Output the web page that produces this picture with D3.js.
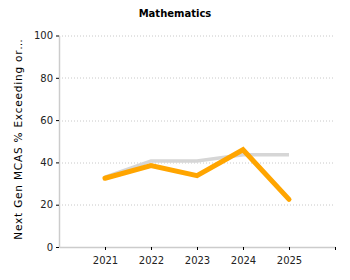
<!DOCTYPE html>
<html>
<head>
<meta charset="utf-8">
<script src="https://cdn.jsdelivr.net/npm/d3@7"></script>
<style>
    body { margin: 0; background: #fff; }
    text { font-family: "DejaVu Sans", Verdana, sans-serif; }
</style>
</head>
<body>
<div id="chart1"></div>
<script>
// data
var years = [2021, 2022, 2023, 2024, 2025];
var schoolValues = [32.5, 38.5, 33.7, 46, 22.5];
var stateValues = [33, 40.7, 40.7, 43.6, 43.6];
var yTicks = [0, 20, 40, 60, 80, 100];

var w = 350;
var h = 280;
var margin = {
    top: 35.5,
    bottom: 33,
    left: 59,
    right: 15
};
var width = w - margin.left - margin.right;
var height = h - margin.top - margin.bottom;

var svg = d3.select("#chart1").append("svg")
    .attr("width", w)
    .attr("height", h);

svg.append("text")
    .attr("x", w / 2)
    .attr("y", 17)
    .style("text-anchor", "middle")
    .style("font-weight", "bold")
    .style("font-size", "10px")
    .style("fill", "#000")
    .text("Mathematics");

var chart = svg.append("g")
    .attr("transform", "translate(" + margin.left + "," + margin.top + ")");

var x = d3.scaleLinear()
    .domain([years[0] - 1, years[years.length - 1] + 1])
    .range([0, width]);
var y = d3.scaleLinear()
    .domain([0, 100])
    .range([height, 0]);

// grid
chart.selectAll(".grid")
    .data(yTicks.filter(function(d){ return d > 0; }))
    .enter()
    .append("line")
    .classed("grid", true)
    .attr("x1", 0)
    .attr("x2", width)
    .attr("y1", function(d){ return Math.round(y(d)) + 0.5; })
    .attr("y2", function(d){ return Math.round(y(d)) + 0.5; })
    .style("stroke", "#c8c8c8")
    .style("stroke-dasharray", "1,2");

var xAxis = d3.axisBottom(x)
    .tickValues(years.concat([years[years.length - 1] + 1]))
    .tickFormat(function(d){ return years.indexOf(d) >= 0 ? d : ""; })
    .tickSize(3)
    .tickSizeOuter(0);
var yAxis = d3.axisLeft(y)
    .tickValues(yTicks)
    .tickSize(3)
    .tickSizeOuter(0);

var gx = chart.append("g")
    .attr("transform", "translate(0," + height + ")")
    .call(xAxis);
var gy = chart.append("g")
    .call(yAxis);

[gx, gy].forEach(function(g){
    g.select(".domain").style("stroke", "#cccccc").style("stroke-width", 1.5);
    g.selectAll(".tick line").style("stroke", "#000");
    g.selectAll(".tick text")
        .style("font-family", "'DejaVu Sans', Verdana, sans-serif")
        .style("font-size", "10px")
        .style("fill", "#222");
});
gx.selectAll(".tick text").attr("dy", "1.1em");

// y label
svg.append("text")
    .attr("transform", "translate(22,139) rotate(-90)")
    .style("text-anchor", "middle")
    .style("font-size", "10.5px")
    .style("letter-spacing", "0.8px")
    .style("fill", "#000")
    .text("Next Gen MCAS % Exceeding or\u2026");

var line = d3.line()
    .x(function(d){ return x(d.year); })
    .y(function(d){ return y(d.value); });

var stateData = years.map(function(yr, i){ return {year: yr, value: stateValues[i]}; });
var schoolData = years.map(function(yr, i){ return {year: yr, value: schoolValues[i]}; });

chart.append("path")
    .datum(stateData)
    .attr("d", line)
    .style("fill", "none")
    .style("stroke", "#d6d6d6")
    .style("stroke-width", 3.5);

chart.append("path")
    .datum(schoolData)
    .attr("d", line)
    .style("fill", "none")
    .style("stroke", "#ffa500")
    .style("stroke-width", 5)
    .style("stroke-linecap", "round")
    .style("stroke-linejoin", "miter");
</script>
</body>
</html>
